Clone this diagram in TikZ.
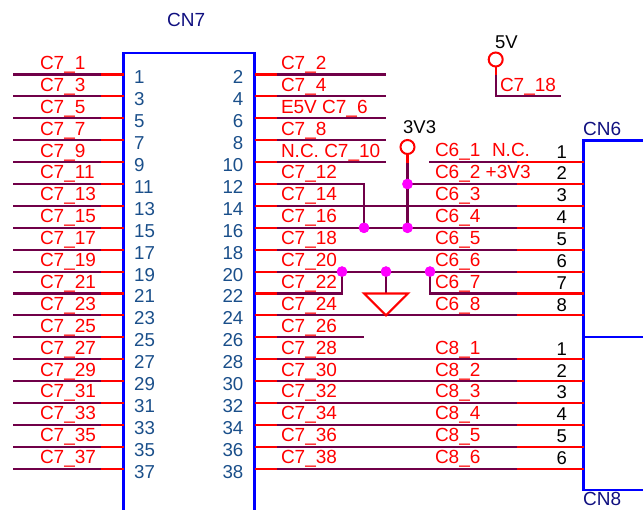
\documentclass[tikz,border=0pt]{standalone}
\usepackage{fontspec}
\setmainfont{Liberation Sans}
\definecolor{wine}{HTML}{700048}
\definecolor{pinblue}{HTML}{1A4F8A}
\definecolor{navy2}{HTML}{101080}
\definecolor{junc}{HTML}{FF00FF}
\definecolor{pure red}{RGB}{255,0,0}
\definecolor{pure blue}{RGB}{0,0,255}
\tikzset{
  wire/.style={draw=wine,line width=2.1pt},
  redw/.style={draw=pure red,line width=2.1pt},
  boxl/.style={draw=pure blue,line width=2.4pt},
  lab/.style={anchor=base west,inner sep=0pt,outer sep=0pt,text=pure red,font=\fontsize{19}{19}\selectfont},
  pinl/.style={anchor=base west,inner sep=0pt,text=pinblue,font=\fontsize{18.7}{18.7}\selectfont},
  pinr/.style={anchor=base east,inner sep=0pt,text=pinblue,font=\fontsize{18.7}{18.7}\selectfont},
  numb/.style={anchor=base west,inner sep=0pt,text=black,font=\fontsize{18.5}{18.5}\selectfont},
  cname/.style={anchor=base west,inner sep=0pt,text=navy2,font=\fontsize{19}{19}\selectfont},
  rail/.style={anchor=base west,inner sep=0pt,text=black,font=\fontsize{18.5}{18.5}\selectfont},
  dotj/.style={circle,fill=junc,inner sep=0pt,minimum size=10.5pt},
  pwr/.style={circle,draw=pure red,line width=2pt,inner sep=0pt,minimum size=14pt,fill=white},
}
\begin{document}
\begin{tikzpicture}[x=1pt,y=-1pt]
\useasboundingbox (0,0) rectangle (643,510);
% connector bodies
\coordinate (cn7tl) at (123.5,53);
\coordinate (cn7tr) at (254.5,53);
\coordinate (cn7bl) at (123.5,510);
\coordinate (cn7br) at (254.5,510);
\draw[boxl] (cn7bl) -- (cn7tl) -- (cn7tr) -- (cn7br);
\coordinate (cn6e) at (643,140.5);
\coordinate (cn6w) at (583.5,140.5);
\coordinate (cn8w) at (583.5,490.3);
\coordinate (cn8e) at (643,490.3);
\coordinate (midw) at (583.5,337);
\coordinate (mide) at (643,337);
\draw[boxl] (cn6e) -- (cn6w) -- (cn8w) -- (cn8e);
\draw[boxl] (midw) -- (mide);
\node[cname] (cn7) at (167,27) {CN7};
\node[cname] (cn6) at (583,136) {CN6};
\node[cname] (cn8) at (583,505.8) {CN8};
% CN7 pins
\foreach \i in {0,...,18}{
  \pgfmathsetmacro{\yy}{74.5+21.9*\i}
  \pgfmathtruncatemacro{\odd}{2*\i+1}
  \pgfmathtruncatemacro{\even}{2*\i+2}
  \draw[wire] (13,\yy) -- (101,\yy);
  \draw[redw] (101,\yy) -- (123.5,\yy);
  \node[lab] (l\odd) at (40,\yy-5) {C7\_\odd};
  \node[pinl] (pl\odd) at (134,\yy+9.5) {\odd};
  \draw[redw] (254.5,\yy) -- (277,\yy);
  \node[pinr] (pr\even) at (243.5,\yy+9.5) {\even};
}
% right labels of CN7
\foreach \i/\t in {0/C7\_2,1/C7\_4,2/E5V C7\_6,3/C7\_8,4/N.C. C7\_10,5/C7\_12,6/C7\_14,7/C7\_16,8/C7\_18,9/C7\_20,10/C7\_22,11/C7\_24,12/C7\_26,13/C7\_28,14/C7\_30,15/C7\_32,16/C7\_34,17/C7\_36,18/C7\_38}{
  \pgfmathsetmacro{\yy}{74.5+21.9*\i}
  \node[lab] (r\i) at (281,\yy-5) {\t};
}
% short wires to 386
\foreach \i in {0,...,4}{
  \pgfmathsetmacro{\yy}{74.5+21.9*\i}
  \draw[wire] (277,\yy) -- (386,\yy);
}
% wires through to CN6/CN8
\foreach \i in {6,7,8,9,11,13,14,15,16,17,18}{
  \pgfmathsetmacro{\yy}{74.5+21.9*\i}
  \draw[wire] (277,\yy) -- (517,\yy);
}
\draw[wire] (277,337.3) -- (364,337.3);
% C6 / C8 red ends
\foreach \i in {4,5,6,7,8,9,10,11,13,14,15,16,17,18}{
  \pgfmathsetmacro{\yy}{74.5+21.9*\i}
  \draw[redw] (517,\yy) -- (583.5,\yy);
}
\draw[wire] (429,162.1) -- (517,162.1);
% C6/C8 labels
\foreach \i/\t in {5/C6\_2 +3V3,6/C6\_3,7/C6\_4,8/C6\_5,9/C6\_6,10/C6\_7,11/C6\_8,13/C8\_1,14/C8\_2,15/C8\_3,16/C8\_4,17/C8\_5,18/C8\_6}{
  \pgfmathsetmacro{\yy}{74.5+21.9*\i}
  \node[lab] (c\i) at (435,\yy-5) {\t};
}
\node[lab] (c4) at (435,157) {C6\_1};
\node[lab] (nc) at (492,157) {N.C.};
% black numbers
\foreach \i/\t in {4/1,5/2,6/3,7/4,8/5,9/6,10/7,11/8,13/1,14/2,15/3,16/4,17/5,18/6}{
  \pgfmathsetmacro{\yy}{74.5+21.9*\i}
  \node[numb] (n\i) at (556.5,\yy-4) {\t};
}
% junctions and routing coordinates
\coordinate (w12) at (277,184);
\coordinate (c12) at (364,184);
\coordinate (e2) at (517,184);
\coordinate (w22) at (277,293.5);
\coordinate (c22) at (342,293.5);
\coordinate (c67) at (430,293.5);
\coordinate (e7) at (517,293.5);
\node[dotj] (j1) at (407.5,184) {};
\node[dotj] (j2) at (407.5,227.8) {};
\node[dotj] (j3) at (364,227.8) {};
\node[dotj] (j4) at (342,271.6) {};
\node[dotj] (j5) at (386,271.6) {};
\node[dotj] (j6) at (430,271.6) {};
\coordinate (t1) at (364,293.5);
\coordinate (t2) at (408,293.5);
\coordinate (t3) at (386,315.4);
\coordinate (tm) at (386,293.5);
% power symbols
\node[pwr] (v33) at (407.5,147) {};
\node[rail] (v33t) at (403,134) {3V3};
\node[pwr] (v5) at (495.7,59.5) {};
\node[rail] (v5t) at (495,49) {5V};
\coordinate (v33m) at (407.5,163);
\coordinate (v5m) at (495.7,75);
\coordinate (v5c) at (495.7,96.4);
\coordinate (v5e) at (561,96.4);
\node[lab] (c718) at (500,91.5) {C7\_18};
% routed wires
\draw[wire] (w12) -- (c12) -- (j3.center);
\draw[wire] (j1.center) -- (e2);
\draw[wire] (w22) -- (c22) -- (j4.center);
\draw[wire] (j6.center) -- (c67) -- (e7);
\draw[wire] (j5.center) -- (tm);
\draw[wire] (v33m) -- (j2.center);
\draw[redw] (v33.south) -- (v33m);
\draw[redw] (v5.south) -- (v5m);
\draw[wire] (v5m) -- (v5c) -- (v5e);
\draw[redw,line join=miter] (t1) -- (t2) -- (t3) -- cycle;
\foreach \n in {j1,j2,j3,j4,j5,j6}{\fill[junc] (\n) circle (5.25pt);}
\end{tikzpicture}
\end{document}
